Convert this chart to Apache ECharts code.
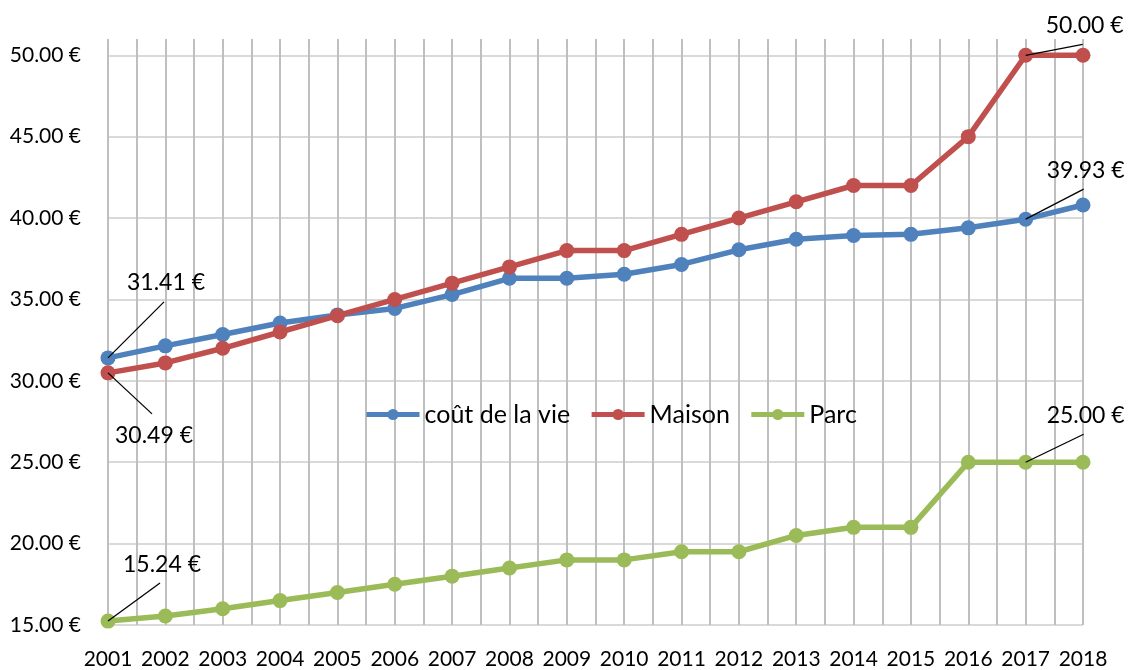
<!DOCTYPE html>
<html>
<head>
<meta charset="utf-8">
<script src="https://cdn.jsdelivr.net/npm/echarts@6/dist/echarts.min.js"></script>
<style>
html,body{margin:0;padding:0;background:#fff;}
#chart{width:1135px;height:670px;}
</style>
</head>
<body>
<div id="chart"></div>
<script>
const years = ['2001','2002','2003','2004','2005','2006','2007','2008','2009','2010','2011','2012','2013','2014','2015','2016','2017','2018'];
const coutVie = [31.41, 32.15, 32.85, 33.55, 34.05, 34.45, 35.3, 36.3, 36.3, 36.55, 37.15, 38.05, 38.7, 38.93, 39.0, 39.4, 39.93, 40.8];
const maison = [30.49, 31.1, 32, 33, 34, 35, 36, 37, 38, 38, 39, 40, 41, 42, 42, 45, 50, 50];
const parc = [15.24, 15.55, 16, 16.5, 17, 17.5, 18, 18.5, 19, 19, 19.5, 19.5, 20.5, 21, 21, 25, 25, 25];
const seriesNames = ['coût de la vie', 'Maison', 'Parc'];
const labelledIndices = [0, 16];
const yMin = 15, yMax = 51, yStep = 5;

// label offsets (style): seriesIndex-dataIndex -> [dx, dy] of the label centre from the point
const labelOffsets = {
  '0-0': [58, -75], '1-0': [46, 63], '2-0': [54, -57],
  '0-16': [60, -49], '1-16': [59, -30], '2-16': [60, -47]
};

const FONT = 'Lato';
const colors = ['#4F81BD', '#C0504D', '#9BBB59'];
const seriesArrays = [coutVie, maison, parc];

function fmt(v) { return v.toFixed(2) + ' €'; }

function buildData(arr) {
  return arr.map((v, i) => {
    if (labelledIndices.indexOf(i) >= 0) {
      return { value: v, label: { show: true } };
    }
    return v;
  });
}

const lineSeries = seriesArrays.map((arr, si) => ({
  name: seriesNames[si],
  type: 'line',
  data: buildData(arr),
  symbol: 'circle',
  symbolSize: 15,
  lineStyle: { width: 5.5, color: colors[si] },
  itemStyle: { color: colors[si] },
  label: {
    show: false,
    position: 'inside',
    formatter: p => fmt(p.value),
    color: '#000',
    fontFamily: FONT,
    fontSize: 23
  },
  labelLayout: function (params) {
    const off = labelOffsets[si + '-' + params.dataIndex];
    if (!off) return {};
    return { dx: off[0], dy: off[1] };
  },
  emphasis: { disabled: true },
  z: 3 + si
}));

// leader lines, anchored on the data points via the axes
const leaderKeys = [];
const leaderData = [];
seriesArrays.forEach((arr, si) => {
  labelledIndices.forEach(i => {
    leaderKeys.push(si + '-' + i);
    leaderData.push([i, arr[i]]);
  });
});

const leaderSeries = {
  type: 'custom',
  name: 'leaders',
  data: leaderData,
  z: 10,
  silent: true,
  renderItem: function (params, api) {
    const pt = api.coord([api.value(0), api.value(1)]);
    const off = labelOffsets[leaderKeys[params.dataIndex]];
    const ex = pt[0] + off[0] - 2;
    const ey = pt[1] + off[1] + (off[1] < 0 ? 19 : -22);
    return {
      type: 'line',
      shape: { x1: pt[0], y1: pt[1], x2: ex, y2: ey },
      style: { stroke: '#000', lineWidth: 1.3 }
    };
  }
};

const chart = echarts.init(document.getElementById('chart'), null, { renderer: 'canvas' });
chart.setOption({
  animation: false,
  backgroundColor: '#fff',
  textStyle: { fontFamily: FONT },
  grid: { left: 108, right: 52, top: 39, bottom: 43, containLabel: false },
  legend: {
    data: seriesNames,
    left: 364,
    top: 402,
    itemWidth: 53,
    itemHeight: 14,
    itemGap: 19,
    lineStyle: { width: 5 },
    textStyle: { fontFamily: FONT, fontSize: 25, color: '#000' },
    padding: 0
  },
  xAxis: [
    {
      type: 'category',
      data: years,
      boundaryGap: false,
      axisLine: { show: false },
      axisTick: { show: false },
      splitLine: { show: false },
      axisLabel: { color: '#000', fontFamily: FONT, fontSize: 21, margin: 24, interval: 0 }
    },
    {
      type: 'value',
      position: 'top',
      min: 0,
      max: years.length - 1,
      interval: 0.5,
      axisLine: { show: false },
      axisTick: { show: false },
      axisLabel: { show: false },
      splitLine: { show: true, lineStyle: { color: '#bfbfbf', width: 2 } }
    }
  ],
  yAxis: {
    type: 'value',
    min: yMin,
    max: yMax,
    interval: yStep,
    axisLine: { show: false },
    axisTick: { show: false },
    axisLabel: {
      color: '#000', fontFamily: FONT, fontSize: 21, margin: 27,
      showMaxLabel: false,
      formatter: v => (v % yStep === 0 ? fmt(v) : '')
    },
    splitLine: { show: true, showMaxLine: false, lineStyle: { color: '#d9d9d9', width: 2 } }
  },
  series: lineSeries.concat([leaderSeries])
});
</script>
</body>
</html>
